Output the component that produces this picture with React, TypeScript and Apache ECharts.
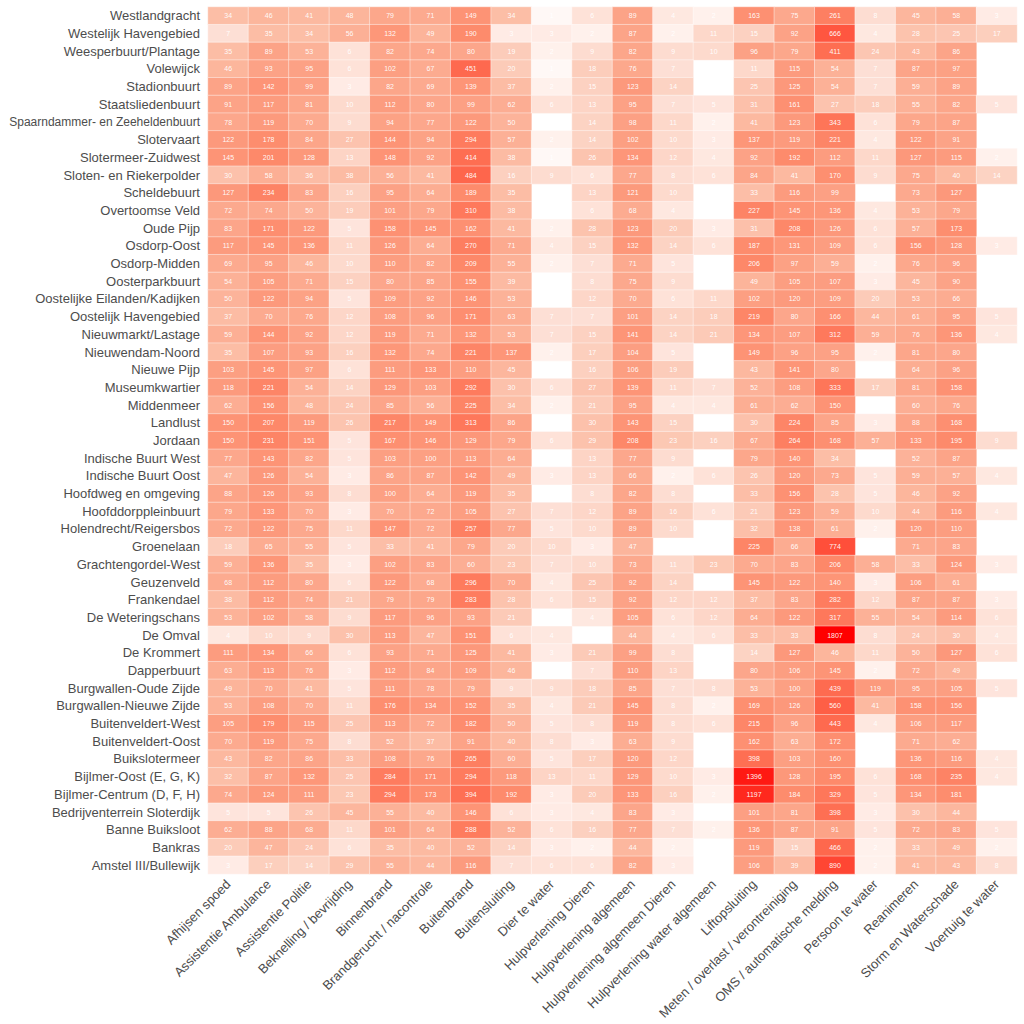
import React, { useEffect, useRef } from "react";
import * as echarts from "echarts";

const neighbourhoods = [
  "Westlandgracht", "Westelijk Havengebied", "Weesperbuurt/Plantage", "Volewijck", "Stadionbuurt",
  "Staatsliedenbuurt", "Spaarndammer- en Zeeheldenbuurt", "Slotervaart", "Slotermeer-Zuidwest",
  "Sloten- en Riekerpolder", "Scheldebuurt", "Overtoomse Veld", "Oude Pijp", "Osdorp-Oost",
  "Osdorp-Midden", "Oosterparkbuurt", "Oostelijke Eilanden/Kadijken", "Oostelijk Havengebied",
  "Nieuwmarkt/Lastage", "Nieuwendam-Noord", "Nieuwe Pijp", "Museumkwartier", "Middenmeer", "Landlust",
  "Jordaan", "Indische Buurt West", "Indische Buurt Oost", "Hoofdweg en omgeving", "Hoofddorppleinbuurt",
  "Holendrecht/Reigersbos", "Groenelaan", "Grachtengordel-West", "Geuzenveld", "Frankendael",
  "De Weteringschans", "De Omval", "De Krommert", "Dapperbuurt", "Burgwallen-Oude Zijde",
  "Burgwallen-Nieuwe Zijde", "Buitenveldert-West", "Buitenveldert-Oost", "Buikslotermeer",
  "Bijlmer-Oost (E, G, K)", "Bijlmer-Centrum (D, F, H)", "Bedrijventerrein Sloterdijk",
  "Banne Buiksloot", "Bankras", "Amstel III/Bullewijk",
];

const incidentTypes = [
  "Afhijsen spoed", "Assistentie Ambulance", "Assistentie Politie", "Beknelling / bevrijding",
  "Binnenbrand", "Brandgerucht / nacontrole", "Buitenbrand", "Buitensluiting", "Dier te water",
  "Hulpverlening Dieren", "Hulpverlening algemeen", "Hulpverlening algemeen Dieren",
  "Hulpverlening water algemeen", "Liftopsluiting", "Meten / overlast / verontreiniging",
  "OMS / automatische melding", "Persoon te water", "Reanimeren", "Storm en Waterschade",
  "Voertuig te water",
];

const _ = null;
// one row per neighbourhood, one value per incident type (null = no incidents)
const counts: (number | null)[][] = [
  [34, 46, 41, 48, 79, 71, 149, 34, 1, 6, 89, 4, 2, 163, 75, 261, 8, 45, 58, 3],
  [7, 35, 34, 56, 132, 49, 190, 3, 3, 2, 87, 2, 11, 15, 92, 666, 4, 28, 25, 17],
  [35, 89, 53, 6, 82, 74, 80, 19, 2, 9, 82, 9, 10, 96, 79, 411, 24, 43, 86, _],
  [46, 93, 95, 6, 102, 67, 451, 20, 1, 18, 76, 7, _, 11, 115, 54, 7, 87, 97, _],
  [89, 142, 99, 3, 82, 69, 139, 37, 2, 15, 123, 14, _, 25, 125, 54, 7, 59, 89, _],
  [91, 117, 81, 10, 112, 80, 99, 62, 6, 13, 95, 7, 5, 31, 161, 27, 18, 55, 82, 5],
  [78, 119, 70, 9, 94, 77, 122, 50, _, 14, 98, 11, 2, 41, 123, 343, 6, 79, 87, _],
  [122, 178, 84, 27, 144, 94, 294, 57, 2, 14, 102, 10, 3, 137, 119, 221, 4, 122, 91, _],
  [145, 201, 128, 13, 148, 92, 414, 38, 1, 26, 134, 12, 4, 92, 192, 112, 11, 127, 115, 2],
  [30, 58, 36, 38, 56, 41, 484, 16, 9, 6, 77, 8, 6, 84, 41, 170, 9, 75, 40, 14],
  [127, 234, 83, 16, 95, 64, 189, 35, _, 13, 121, 10, _, 33, 116, 99, _, 73, 127, _],
  [72, 74, 50, 19, 101, 79, 310, 38, _, 6, 68, 4, _, 227, 145, 136, 4, 53, 79, _],
  [83, 171, 122, 5, 158, 145, 162, 41, 2, 28, 123, 20, 3, 31, 208, 126, 6, 57, 173, _],
  [117, 145, 136, 11, 126, 64, 270, 71, 4, 15, 132, 14, 6, 187, 131, 109, 6, 156, 128, 3],
  [69, 95, 46, 10, 110, 82, 209, 55, 2, 7, 71, 5, _, 206, 97, 59, 2, 76, 96, _],
  [54, 105, 71, 15, 80, 85, 155, 39, _, 8, 75, 9, _, 49, 105, 107, 3, 45, 90, _],
  [50, 122, 94, 5, 109, 92, 146, 53, _, 12, 70, 6, 11, 102, 120, 109, 20, 53, 66, _],
  [37, 70, 76, 12, 108, 96, 171, 63, 7, 7, 101, 14, 18, 219, 80, 166, 44, 61, 95, 5],
  [59, 144, 92, 12, 119, 71, 132, 53, 7, 15, 141, 14, 21, 134, 107, 312, 59, 76, 136, 4],
  [35, 107, 93, 16, 132, 74, 221, 137, 2, 17, 104, 5, _, 149, 96, 95, 2, 81, 80, _],
  [103, 145, 97, 6, 111, 133, 110, 45, _, 16, 106, 19, _, 43, 141, 80, _, 64, 96, _],
  [118, 221, 54, 14, 129, 103, 292, 30, 6, 27, 139, 11, 7, 52, 108, 333, 17, 81, 158, _],
  [62, 156, 48, 24, 85, 56, 225, 34, 2, 21, 95, 4, 4, 61, 62, 150, _, 60, 76, _],
  [150, 207, 119, 26, 217, 149, 313, 86, _, 30, 143, 15, _, 30, 224, 85, 3, 88, 168, _],
  [150, 231, 151, 5, 167, 146, 129, 79, 6, 29, 208, 23, 16, 67, 264, 168, 57, 133, 195, 9],
  [77, 143, 82, 5, 103, 100, 113, 64, _, 13, 77, 9, _, 79, 140, 34, _, 52, 87, _],
  [47, 126, 54, 3, 86, 87, 142, 49, 3, 13, 66, 2, 6, 26, 120, 73, 5, 59, 57, 4],
  [88, 126, 93, 8, 100, 64, 119, 35, _, 8, 82, 8, _, 33, 156, 28, 5, 46, 92, _],
  [79, 133, 70, 3, 70, 72, 105, 27, 7, 12, 89, 16, 6, 21, 123, 59, 10, 44, 116, 4],
  [72, 122, 75, 11, 147, 72, 257, 77, 5, 10, 89, 10, _, 32, 138, 61, 2, 120, 110, _],
  [18, 65, 55, 5, 33, 41, 79, 20, 10, 3, 47, _, _, 225, 66, 774, _, 71, 83, _],
  [59, 136, 35, 3, 102, 83, 60, 23, 7, 10, 73, 11, 23, 70, 83, 206, 58, 33, 124, 3],
  [68, 112, 80, 6, 122, 68, 296, 70, 4, 25, 92, 14, _, 145, 122, 140, 3, 106, 61, _],
  [38, 112, 74, 21, 79, 79, 283, 28, 6, 15, 92, 12, 12, 37, 83, 282, 12, 87, 87, 3],
  [53, 102, 58, 9, 117, 96, 93, 21, _, 4, 105, 6, 12, 64, 122, 317, 55, 54, 114, 6],
  [4, 10, 9, 30, 113, 47, 151, 6, 4, _, 44, 4, 6, 33, 33, 1807, 8, 24, 30, 4],
  [111, 134, 66, 6, 93, 71, 125, 41, 3, 21, 99, 8, _, 14, 127, 46, 11, 50, 127, 6],
  [63, 113, 76, 3, 112, 84, 109, 46, _, 7, 110, 13, _, 80, 106, 145, 2, 72, 49, _],
  [49, 70, 41, 5, 111, 78, 79, 9, 9, 18, 85, 7, 8, 53, 100, 439, 119, 95, 105, 5],
  [53, 108, 70, 11, 176, 134, 152, 35, 4, 21, 145, 8, 2, 169, 126, 560, 41, 158, 156, _],
  [105, 179, 115, 25, 113, 72, 182, 50, 5, 8, 119, 8, 6, 215, 96, 443, 4, 106, 117, _],
  [70, 119, 75, 8, 52, 37, 91, 40, 8, 3, 63, 9, _, 162, 63, 172, _, 71, 62, _],
  [43, 82, 86, 33, 108, 76, 265, 60, 5, 17, 120, 12, _, 398, 103, 160, _, 136, 116, 4],
  [32, 87, 132, 25, 284, 171, 294, 118, 13, 11, 129, 10, 3, 1396, 128, 195, 6, 168, 235, 4],
  [74, 124, 111, 23, 294, 173, 394, 192, 3, 20, 133, 16, 2, 1197, 184, 329, 5, 134, 181, _],
  [5, 5, 26, 45, 55, 40, 146, 6, 3, 4, 83, 3, _, 101, 81, 398, 3, 30, 44, _],
  [62, 88, 68, 11, 101, 64, 288, 52, 6, 16, 77, 7, 2, 136, 87, 91, 5, 72, 83, 5],
  [20, 47, 24, 6, 35, 40, 52, 14, 3, 2, 44, 2, _, 119, 15, 466, 2, 33, 49, 2],
  [3, 17, 14, 29, 55, 44, 116, 7, 6, 6, 82, 3, _, 106, 39, 890, 2, 41, 43, 8],
];

const colorStops = [
  "#fff8f6", "#fff0eb", "#fee6de", "#fddbcf", "#fccbb8", "#fcb89f",
  "#fca387", "#fd8b6c", "#fe6f53", "#ff4a36", "#ff0000",
];

export default function App() {
  const ref = useRef<HTMLDivElement>(null);
  useEffect(() => {
    if (!ref.current) return;
    const chart = echarts.init(ref.current, undefined, { renderer: "svg" });
    const data: any[] = [];
    let maxV = 1;
    counts.forEach((row, ri) =>
      row.forEach((v, ci) => {
        if (v === null) return;
        if (v > maxV) maxV = v;
        data.push([ci, ri, v, Math.log10(v)]);
      })
    );
    const font = "'Liberation Sans', Arial, sans-serif";
    chart.setOption({
      animation: false,
      backgroundColor: "#ffffff",
      grid: {
        left: 208,
        right: 7,
        top: 7,
        bottom: 150,
        containLabel: false,
        outerBoundsMode: "none",
      },
      xAxis: {
        type: "category",
        data: incidentTypes,
        axisLine: { show: false },
        axisTick: { show: false },
        splitLine: { show: false },
        axisLabel: { rotate: 45, fontSize: 13, color: "#4d4d4d", fontFamily: font, interval: 0, margin: 8 },
      },
      yAxis: {
        type: "category",
        data: neighbourhoods,
        inverse: true,
        axisLine: { show: false },
        axisTick: { show: false },
        splitLine: { show: false },
        axisLabel: {
          fontSize: 13,
          color: "#4d4d4d",
          fontFamily: font,
          interval: 0,
          margin: 8,
          formatter: (v: string) => (v.length > 28 ? `{n|${v}}` : v),
          rich: { n: { fontSize: 12, color: "#4d4d4d", fontFamily: font } },
        },
      },
      visualMap: {
        show: false,
        type: "continuous",
        dimension: 3,
        min: 0,
        max: Math.log10(maxV),
        inRange: { color: colorStops },
      },
      series: [
        {
          type: "heatmap",
          data,
          itemStyle: { borderColor: "rgba(255,255,255,0.7)", borderWidth: 0.6 },
          label: {
            show: true,
            fontSize: 7,
            color: "rgba(255,255,255,0.95)",
            fontFamily: font,
            formatter: (p: any) => String(p.value[2]),
          },
          emphasis: { disabled: true },
        },
      ],
    });
    return () => chart.dispose();
  }, []);
  return (
    <div
      ref={ref}
      style={{ position: "absolute", left: 0, top: 0, width: 1024, height: 1024 }}
    />
  );
}
